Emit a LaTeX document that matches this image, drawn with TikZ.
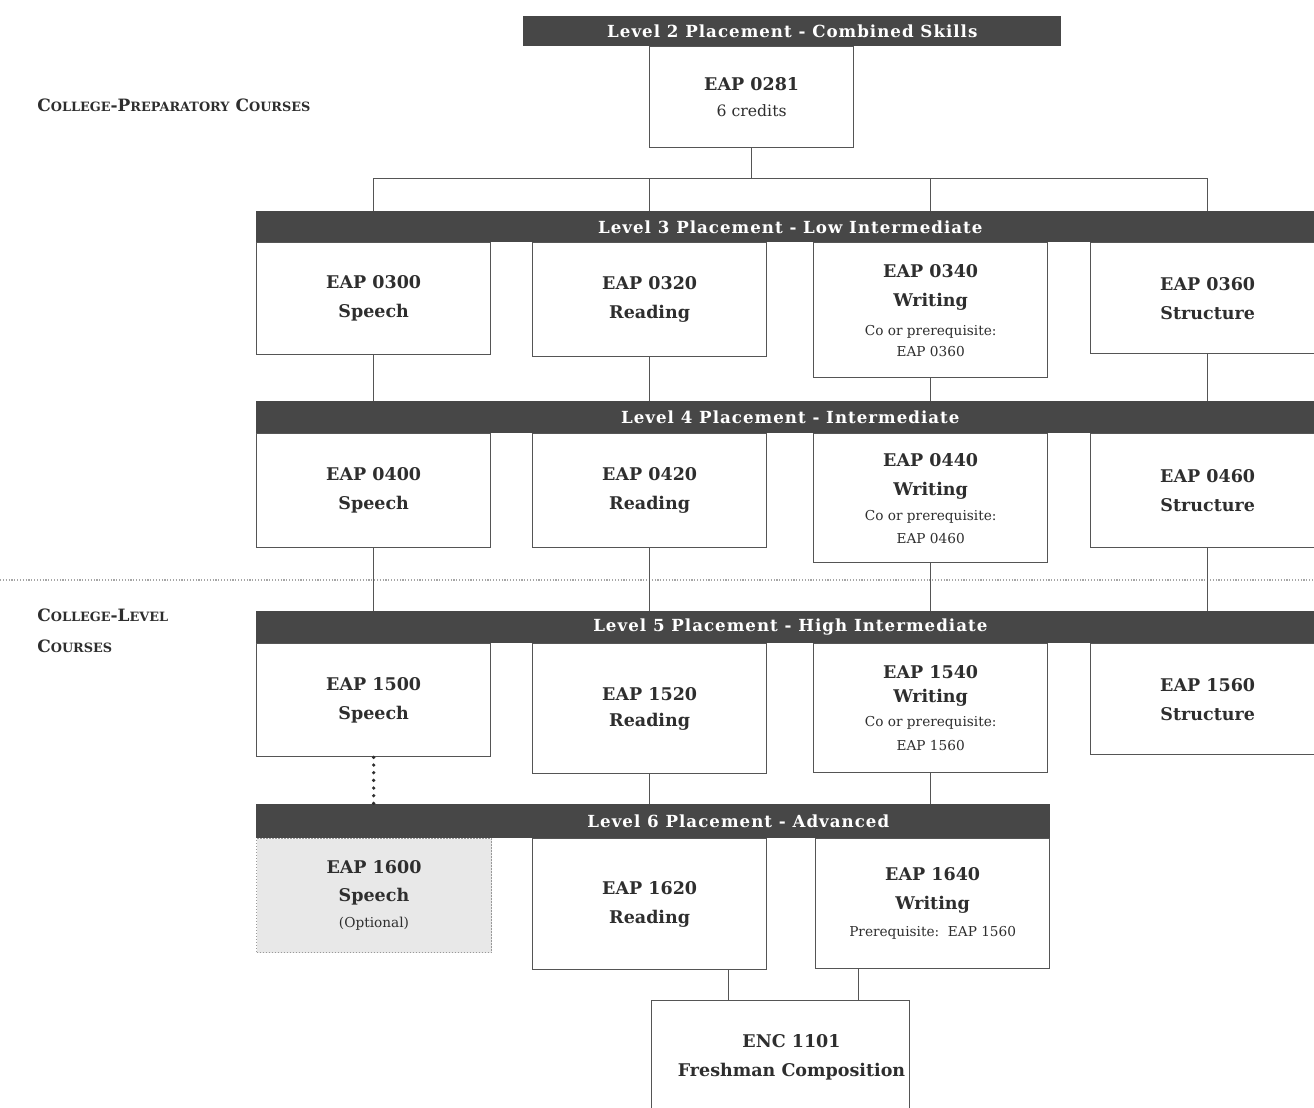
\documentclass[tikz,border=0pt]{standalone}
\usepackage{fontspec}
\setmainfont{DejaVu Serif}
\usetikzlibrary{calc,positioning}
\definecolor{bargray}{HTML}{474747}
\definecolor{linegray}{HTML}{555555}
\definecolor{textgray}{HTML}{2E2E2E}
\definecolor{optfill}{HTML}{E8E8E8}
\newcommand{\smcap}[1]{{\fontsize{7.7}{9.2}\selectfont #1}}
\newcommand{\note}[1]{{\fontsize{8.2}{9.6}\selectfont\mdseries #1}}

\begin{document}
\begin{tikzpicture}[x=0.6pt,y=-0.6pt,
  sz/.style 2 args={minimum width=#1*0.6pt, minimum height=#2*0.6pt},
  bartxt/.style={text=white, font=\fontsize{10}{12}\selectfont\bfseries\addfontfeature{LetterSpace=6}},
  bar/.style={fill=bargray, inner sep=0pt, anchor=north west, bartxt},
  course/.style={draw=linegray, line width=0.8pt, fill=white, text=textgray, inner sep=0pt,
    anchor=north west, align=center, font=\fontsize{10.5}{17.4}\selectfont\bfseries},
  optional/.style={course, draw=gray!80, densely dotted, line width=0.6pt, fill=optfill},
  wire/.style={draw=linegray, line width=0.8pt},
  side/.style={anchor=west, inner sep=0pt, text=textgray, align=left, font=\fontsize{10.2}{18.6}\selectfont\bfseries}]
\clip (0,0) rectangle (1314,1107);

% side headings
\node[side] (prep) at (37,105) {C\smcap{OLLEGE}-P\smcap{REPARATORY} C\smcap{OURSES}};
\node[side] (clevel) at (37,631) {C\smcap{OLLEGE}-L\smcap{EVEL}\\C\smcap{OURSES}};
\draw[gray!70, densely dotted, line width=0.7pt] (0,580) -- (1314,580);

% level 2
\node[bar, sz={538}{30}] (bar2) at (523,16) {Level 2 Placement - Combined Skills};
\node[course, sz={204}{101}] (c0281) at (649,46) {EAP 0281\\[-1.8pt] {\fontsize{9.4}{11}\selectfont\mdseries 6 credits}};

% level 3
\node[bar, sz={1068}{31}] (bar3) at (256,211) {Level 3 Placement - Low Intermediate};
\node[course, sz={234}{112}] (s3) at (256,242) {EAP 0300\\ Speech};
\node[course, sz={234}{114}] (r3) at (532,242) {EAP 0320\\ Reading};
\node[course, sz={234}{135}] (w3) at (813,242) {EAP 0340\\ Writing\\ \note{Co or prerequisite:}\\[-4.8pt] \note{EAP 0360}};
\node[course, sz={234}{111}] (st3) at (1090,242) {EAP 0360\\ Structure};

% level 4
\node[bar, sz={1068}{32}] (bar4) at (256,401) {Level 4 Placement - Intermediate};
\node[course, sz={234}{114}] (s4) at (256,433) {EAP 0400\\ Speech};
\node[course, sz={234}{114}] (r4) at (532,433) {EAP 0420\\ Reading};
\node[course, sz={234}{129}] (w4) at (813,433) {EAP 0440\\ Writing\\[-2.4pt] \note{Co or prerequisite:}\\[-3.6pt] \note{EAP 0460}};
\node[course, sz={234}{114}] (st4) at (1090,433) {EAP 0460\\ Structure};

% level 5
\node[bar, sz={1068}{32}] (bar5) at (256,611) {Level 5 Placement - High Intermediate};
\node[course, sz={234}{113}] (s5) at (256,643) {EAP 1500\\ Speech};
\node[course, sz={234}{130}] (r5) at (532,643) {EAP 1520\\[-1.8pt] Reading};
\node[course, sz={234}{129}] (w5) at (813,643) {EAP 1540\\[-3pt] Writing\\[-3pt] \note{Co or prerequisite:}\\[-3pt] \note{EAP 1560}};
\node[course, sz={234}{111}] (st5) at (1090,643) {EAP 1560\\ Structure};

% level 6
\node[bar, sz={794}{34}, label={[bartxt, xshift=51pt]center:Level 6 Placement - Advanced}] (bar6) at (256,804) {};
\node[optional, sz={235}{114}] (s6) at (256,838) {EAP 1600\\[-0.6pt] Speech\\[-1.8pt] \note{(Optional)}};
\node[course, sz={234}{131}] (r6) at (532,838) {EAP 1620\\ Reading};
\node[course, sz={234}{130}] (w6) at (815,838) {EAP 1640\\ Writing\\[-1.2pt] \note{Prerequisite:\ \ EAP 1560}};

\node[course, sz={258}{113}] (enc) at (651,1000) {\hspace*{13pt}ENC 1101\\ \hspace*{13pt}Freshman Composition};

% connectors
\coordinate (bus) at ($(c0281.south)+(0,30)$);
\draw[wire] (c0281.south) -- (bus);
\foreach \c in {s3,r3,w3,st3}
  \draw[wire] (\c |- bar3.north) |- (bus);
\foreach \a in {s3,r3,w3,st3}
  \draw[wire] (\a.south) -- (\a.south |- bar4.north);
\foreach \a in {s4,r4,w4,st4}
  \draw[wire] (\a.south) -- (\a.south |- bar5.north);
\foreach \a in {r5,w5}
  \draw[wire] (\a.south) -- (\a.south |- bar6.north);
\draw[textgray, line width=2.2pt, line cap=round, dash pattern=on 0pt off 4.6pt]
  (s5.south) -- (s5.south |- bar6.north);
\coordinate (jr) at ($(enc.north west)!0.3!(enc.north east)$);
\coordinate (jw) at ($(enc.north west)!0.8!(enc.north east)$);
\draw[wire] (jr) -- (jr |- r6.south);
\draw[wire] (jw) -- (jw |- w6.south);
\end{tikzpicture}
\end{document}
